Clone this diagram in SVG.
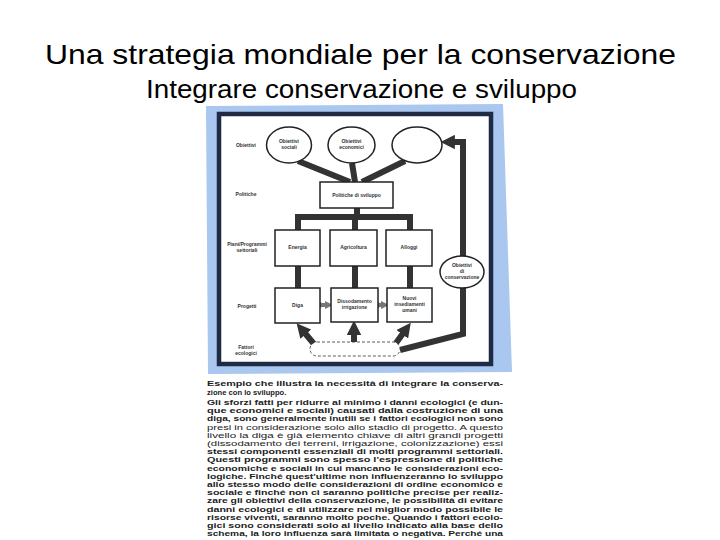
<svg xmlns="http://www.w3.org/2000/svg" width="720" height="540" viewBox="0 0 720 540">
<style>
.title{font-family:"Liberation Sans",Arial,sans-serif;fill:#000}
.lbl{font-family:"Liberation Sans",Arial,sans-serif;font-size:5px;fill:#333;text-anchor:middle;font-weight:bold}
.box{fill:#fff;stroke:#222;stroke-width:1.5}
.thick{fill:none;stroke:#333;stroke-width:6;stroke-linejoin:miter}
.body{font-family:"Liberation Sans",Arial,sans-serif;font-size:7.6px;fill:#222;font-weight:bold}
.light{font-weight:normal;fill:#222}
</style>
<defs>
<marker id="ah" viewBox="0 0 10 10" refX="2" refY="5" markerWidth="2.4" markerHeight="2.4" orient="auto" markerUnits="strokeWidth">
<path d="M0,0 L10,5 L0,10 z" fill="#333"/>
</marker>
<marker id="sa" viewBox="0 0 10 10" refX="5" refY="5" markerWidth="2" markerHeight="2.4" orient="auto" markerUnits="strokeWidth">
<path d="M0,0 L10,5 L0,10 z" fill="#777"/>
</marker>
</defs>
<rect width="720" height="540" fill="#fff"/>
<text class="title" x="45" y="64" font-size="28" textLength="631" lengthAdjust="spacingAndGlyphs">Una strategia mondiale per la conservazione</text>
<text class="title" x="146" y="98" font-size="25" textLength="431" lengthAdjust="spacingAndGlyphs">Integrare conservazione e sviluppo</text>

<g id="backdrop">
<polygon points="206,106 503,104 512,372 208,374" fill="#a9c7ef"/>
<rect x="219" y="114" width="272" height="250" fill="#fff" stroke="#1f2a44" stroke-width="4.5"/>
</g>

<g id="row-labels">
<text class="lbl" x="246" y="147">Obiettivi</text>
<text class="lbl" x="246" y="196">Politiche</text>
<text class="lbl" x="247" y="246">Piani/Programmi</text>
<text class="lbl" x="247" y="251.5">settoriali</text>
<text class="lbl" x="247" y="308">Progetti</text>
<text class="lbl" x="246" y="349">Fattori</text>
<text class="lbl" x="246" y="354.5">ecologici</text>
</g>

<g id="connectors">
<path class="thick" d="M298,161 L350,182"/>
<path class="thick" d="M352,163 L355,182"/>
<path class="thick" d="M405,161 L362,182"/>
<path class="thick" d="M357,208 V217 M295,217 H413 M298,214 V230 M355,214 V230 M410,214 V230"/>
<path class="thick" d="M298,266 V288 M355,266 V288 M410,266 V288"/>
<path class="thick" d="M400,350 L463,334 V142 H452" marker-end="url(#ah)"/>
<path class="thick" d="M314,344 L304,332" marker-end="url(#ah)"/>
<path class="thick" d="M354,342 V332" marker-end="url(#ah)"/>
<path class="thick" d="M396,343 L404,332" marker-end="url(#ah)"/>
<path d="M322,305 H329" stroke="#777" stroke-width="4" marker-start="url(#sa)" marker-end="url(#sa)" fill="none"/>
<path d="M380,305 H385" stroke="#777" stroke-width="4" marker-start="url(#sa)" marker-end="url(#sa)" fill="none"/>
</g>

<g id="obiettivi-sociali">
<ellipse class="box" cx="289" cy="145" rx="22.5" ry="18"/>
<text class="lbl" x="289" y="143">Obiettivi</text>
<text class="lbl" x="289" y="149">sociali</text>
</g>
<g id="obiettivi-economici">
<ellipse class="box" cx="351.5" cy="145" rx="23.5" ry="18"/>
<text class="lbl" x="351.5" y="143">Obiettivi</text>
<text class="lbl" x="351.5" y="149">economici</text>
</g>
<g id="obiettivo-vuoto">
<ellipse class="box" cx="417" cy="145" rx="25" ry="18"/>
</g>
<g id="politiche-sviluppo">
<rect class="box" x="320" y="182" width="73" height="26"/>
<text class="lbl" x="356.5" y="197">Politiche di sviluppo</text>
</g>
<g id="energia">
<rect class="box" x="275" y="230" width="45" height="36"/>
<text class="lbl" x="297.5" y="249">Energia</text>
</g>
<g id="agricoltura">
<rect class="box" x="330" y="230" width="47" height="36"/>
<text class="lbl" x="353.5" y="249">Agricoltura</text>
</g>
<g id="alloggi">
<rect class="box" x="386" y="230" width="46" height="36"/>
<text class="lbl" x="409" y="249">Alloggi</text>
</g>
<g id="diga">
<rect class="box" x="275" y="288" width="45" height="35"/>
<text class="lbl" x="297.5" y="307">Diga</text>
</g>
<g id="dissodamento">
<rect class="box" x="331" y="288" width="47" height="34"/>
<text class="lbl" x="354.5" y="303">Dissodamento</text>
<text class="lbl" x="354.5" y="309">irrigazione</text>
</g>
<g id="insediamenti">
<rect class="box" x="387" y="288" width="45" height="34"/>
<text class="lbl" x="409.5" y="300">Nuovi</text>
<text class="lbl" x="409.5" y="306">insediamenti</text>
<text class="lbl" x="409.5" y="312">umani</text>
</g>
<g id="obiettivi-conservazione">
<ellipse class="box" cx="462" cy="272" rx="22" ry="16" stroke-width="1"/>
<text class="lbl" x="462" y="267">Obiettivi</text>
<text class="lbl" x="462" y="273">di</text>
<text class="lbl" x="462" y="279">conservazione</text>
</g>
<g id="fattori-ecologici">
<rect x="310" y="342" width="90" height="14" rx="7" fill="#fff" stroke="#333" stroke-width="0.8" stroke-dasharray="3,2"/>
</g>

<g id="caption">
<text class="body" x="207" y="386" textLength="296" lengthAdjust="spacingAndGlyphs">Esempio che illustra la necessità di integrare la conserva-</text>
<text class="body" x="207" y="394.5">zione con lo sviluppo.</text>
<text class="body" x="207" y="405" textLength="296" lengthAdjust="spacingAndGlyphs">Gli sforzi fatti per ridurre al minimo i danni ecologici (e dun-</text>
<text class="body" x="207" y="413.2" textLength="296" lengthAdjust="spacingAndGlyphs">que economici e sociali) causati dalla costruzione di una</text>
<text class="body" x="207" y="421.4" textLength="296" lengthAdjust="spacingAndGlyphs">diga, sono generalmente inutili se i fattori ecologici non sono</text>
<text class="body light" x="207" y="429.6" textLength="296" lengthAdjust="spacingAndGlyphs">presi in considerazione solo allo stadio di progetto. A questo</text>
<text class="body light" x="207" y="437.8" textLength="296" lengthAdjust="spacingAndGlyphs">livello la diga è già elemento chiave di altri grandi progetti</text>
<text class="body light" x="207" y="446" textLength="296" lengthAdjust="spacingAndGlyphs">(dissodamento dei terreni, irrigazione, colonizzazione) essi</text>
<text class="body" x="207" y="454.2" textLength="296" lengthAdjust="spacingAndGlyphs">stessi componenti essenziali di molti programmi settoriali.</text>
<text class="body" x="207" y="462.4" textLength="296" lengthAdjust="spacingAndGlyphs">Questi programmi sono spesso l'espressione di politiche</text>
<text class="body" x="207" y="470.6" textLength="296" lengthAdjust="spacingAndGlyphs">economiche e sociali in cui mancano le considerazioni eco-</text>
<text class="body" x="207" y="478.8" textLength="296" lengthAdjust="spacingAndGlyphs">logiche. Finché quest'ultime non influenzeranno lo sviluppo</text>
<text class="body" x="207" y="487" textLength="296" lengthAdjust="spacingAndGlyphs">allo stesso modo delle considerazioni di ordine economico e</text>
<text class="body" x="207" y="495.2" textLength="296" lengthAdjust="spacingAndGlyphs">sociale e finché non ci saranno politiche precise per realiz-</text>
<text class="body" x="207" y="503.4" textLength="296" lengthAdjust="spacingAndGlyphs">zare gli obiettivi della conservazione, le possibilità di evitare</text>
<text class="body" x="207" y="511.6" textLength="296" lengthAdjust="spacingAndGlyphs">danni ecologici e di utilizzare nel miglior modo possibile le</text>
<text class="body" x="207" y="519.8" textLength="296" lengthAdjust="spacingAndGlyphs">risorse viventi, saranno molto poche. Quando i fattori ecolo-</text>
<text class="body" x="207" y="528" textLength="296" lengthAdjust="spacingAndGlyphs">gici sono considerati solo al livello indicato alla base dello</text>
<text class="body" x="207" y="536.2" textLength="296" lengthAdjust="spacingAndGlyphs">schema, la loro influenza sarà limitata o negativa. Perché una</text>
</g>
</svg>
